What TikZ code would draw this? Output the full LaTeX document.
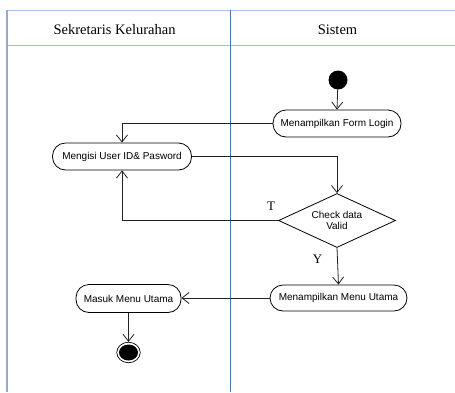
\documentclass[tikz,border=0pt]{standalone}
\usepackage{fontspec}
\setmainfont{Liberation Serif}
\newfontfamily\nodefont{Liberation Sans}
\usetikzlibrary{arrows.meta,shapes.geometric}
\definecolor{lanetop}{HTML}{A9C4E4}
\definecolor{laneleft}{HTML}{93AACB}
\definecolor{lanediv}{HTML}{4677BA}
\definecolor{linegray}{HTML}{222222}
\begin{document}
\begin{tikzpicture}[x=1pt,y=-1pt,
  action/.style={draw=black,line width=0.8pt,rectangle,rounded corners=13pt,
    inner sep=0pt,minimum height=27pt,font=\nodefont\fontsize{10}{12}\selectfont},
  decision/.style={draw=black,line width=0.8pt,diamond,aspect=2.17,inner sep=0pt,
    minimum width=117pt,minimum height=54pt,align=center,
    font=\nodefont\fontsize{10}{10.5}\selectfont},
  flow/.style={draw=linegray,line width=0.8pt,-{Straight Barb[length=7pt,width=11pt]}},
  header/.style={font=\fontsize{14.5}{16}\selectfont},
  guard/.style={font=\fontsize{13}{14}\selectfont}]
\useasboundingbox (0,0) rectangle (455,392);
\fill[white] (0,0) rectangle (455,392);

% swimlane frame
\draw[lanetop,line width=0.9pt] (7,10.5) -- (455,10.5);
\draw[lanetop!90!gray,line width=1.2pt] (7,45.5) -- (455,45.5);
\draw[laneleft,line width=1.2pt] (7,10) -- (7,392);
\draw[lanediv,line width=1pt] (230,10) -- (230,392);

\node[header] (lane1) at (114.5,30) {Sekretaris Kelurahan};
\node[header] (lane2) at (337.5,30) {Sistem};

% activities
\node[circle,fill=black,minimum size=19pt,inner sep=0pt] (start) at (338,80) {};
\node[action,minimum width=128pt] (form) at (337,123.5) {Menampilkan Form Login};
\node[action,minimum width=139pt] (isi) at (122,156.5) {Mengisi User ID\& Pasword};
\node[decision] (cek) at (337,220.5) {Check data\\Valid};
\node[action,minimum width=137pt,minimum height=26pt] (menu) at (338.5,298) {Menampilkan Menu Utama};
\node[action,minimum width=105pt,minimum height=28pt] (masuk) at (128.5,298.5) {Masuk Menu Utama};
\node[ellipse,draw=black,line width=0.7pt,minimum width=23.5pt,minimum height=20.5pt,inner sep=0pt] (end) at (128.5,352.5) {};
\node[ellipse,fill=black,minimum width=19pt,minimum height=16pt,inner sep=0pt] (endin) at (end.center) {};

% control flow
\draw[flow] (start) -- (form.north);
\draw[flow] (form.west) -| (isi.north);
\draw[flow] (isi.east) -| (cek.north);
\draw[flow] (cek.west) -| (isi.south);
\draw[flow] (cek.south) -- (menu.north);
\draw[flow] (menu.west) -- (masuk.east |- menu.west);
\draw[flow] (masuk.south) -- (end.north);

% guards
\node[guard] (gt) at (271,206) {T};
\node[guard] (gy) at (317.5,259) {Y};
\end{tikzpicture}
\end{document}
